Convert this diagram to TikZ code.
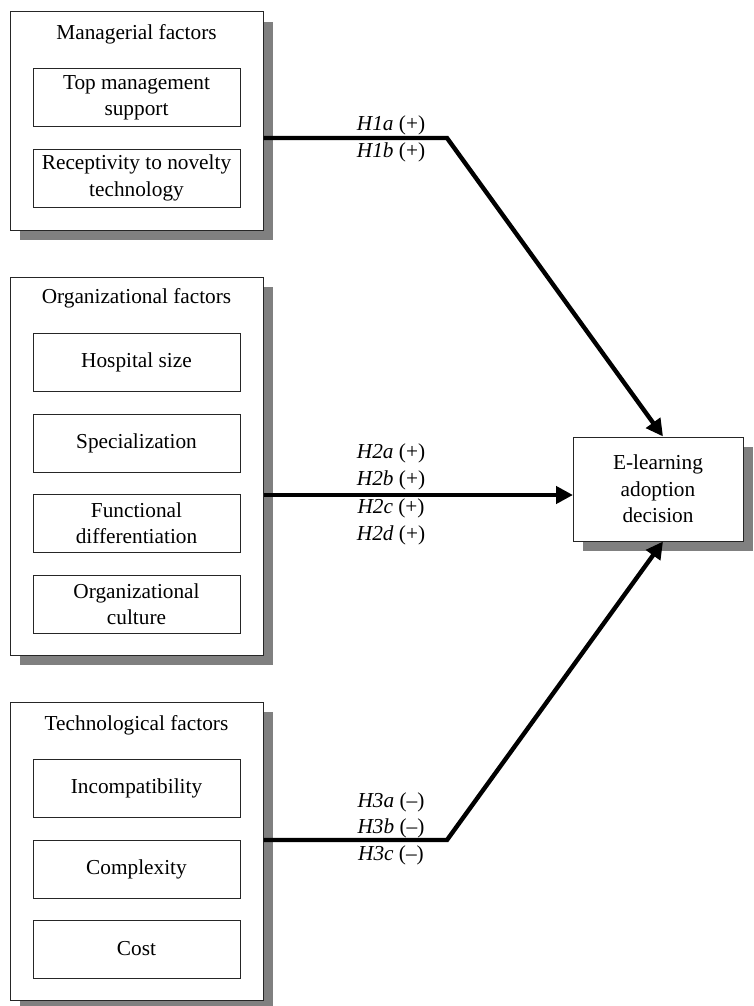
\documentclass[tikz,border=0pt]{standalone}
\usepackage{fontspec}
\setmainfont{Liberation Serif}
\usetikzlibrary{arrows.meta,shadows}
\begin{document}
\begin{tikzpicture}[x=1pt,y=-1pt,
  every node/.style={font=\fontsize{21.3}{26.5}\selectfont},
  outerbox/.style={draw=black!85,line width=1pt,fill=white,rectangle,inner sep=0pt,
    minimum width=253pt,
    drop shadow={shadow xshift=10pt,shadow yshift=-10pt,fill=black!50,opacity=1}},
  innerbox/.style={draw=black!85,line width=1pt,fill=white,rectangle,inner sep=0pt,
    minimum width=207pt,minimum height=58pt,align=center},
  title/.style={inner sep=0pt},
  link/.style={line width=4.4pt,line join=miter},
  tip/.style={-{Triangle[length=17pt,width=17pt]}},
  hyp/.style={inner sep=0pt}
]
\useasboundingbox (0,0) rectangle (753,1006);
% outer group boxes
\node[outerbox,minimum height=218pt] (o1) at (136.5,121) {};
\node[outerbox,minimum height=378pt] (o2) at (136.5,466) {};
\node[outerbox,minimum height=298pt] (o3) at (136.5,851) {};
\node[outerbox,minimum width=170pt,minimum height=104pt,align=center] (el) at (658,489)
  {E-learning\\adoption\\decision};
% titles
\node[title] (t1) at (136.5,34) {Managerial factors};
\node[title] (t2) at (136.5,298) {Organizational factors};
\node[title] (t3) at (136.5,725) {Technological factors};
% inner boxes
\node[innerbox] (tm) at (136.5,98) {Top management\\support};
\node[innerbox] (rc) at (136.5,178) {Receptivity to novelty\\technology};
\node[innerbox] (hs) at (136.5,362) {Hospital size};
\node[innerbox] (sp) at (136.5,443) {Specialization};
\node[innerbox] (fd) at (136.5,523) {Functional\\differentiation};
\node[innerbox] (oc) at (136.5,604) {Organizational\\culture};
\node[innerbox] (ic) at (136.5,788) {Incompatibility};
\node[innerbox] (cx) at (136.5,869) {Complexity};
\node[innerbox] (cs) at (136.5,949) {Cost};
% connectors
\coordinate (j1) at (447,138);
\coordinate (j2) at (573,495);
\coordinate (j3) at (447,840);
\draw[link,tip] (j1 -| o1.east) -- (j1) -- ([xshift=5pt]el.north);
\draw[link,tip] (j2 -| o2.east) -- (j2);
\draw[link,tip] (j3 -| o3.east) -- (j3) -- ([xshift=5pt]el.south);
% hypothesis labels
\node[hyp] (h1a) at (391,125) {\textit{H1a} (+)};
\node[hyp] (h1b) at (391,152) {\textit{H1b} (+)};
\node[hyp] (h2a) at (391,453) {\textit{H2a} (+)};
\node[hyp] (h2b) at (391,480) {\textit{H2b} (+)};
\node[hyp] (h2c) at (391,508) {\textit{H2c} (+)};
\node[hyp] (h2d) at (391,535) {\textit{H2d} (+)};
\node[hyp] (h3a) at (391,802) {\textit{H3a} (--)};
\node[hyp] (h3b) at (391,828) {\textit{H3b} (--)};
\node[hyp] (h3c) at (391,855) {\textit{H3c} (--)};
\end{tikzpicture}
\end{document}
